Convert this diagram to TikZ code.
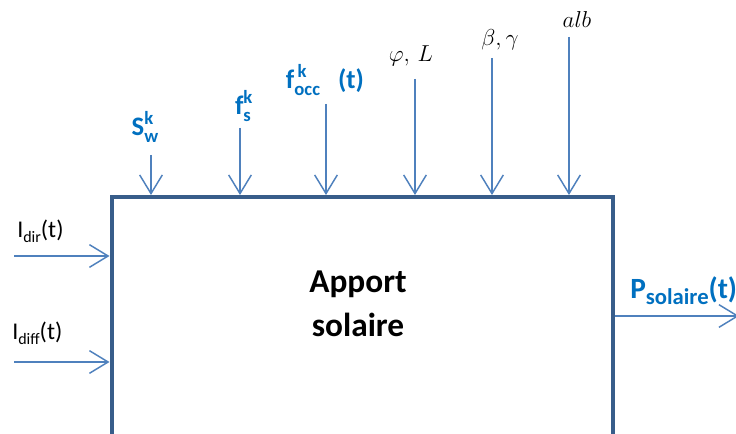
\documentclass[tikz,border=0pt]{standalone}
\usepackage{fontspec}
\setmainfont{Carlito}
\usetikzlibrary{arrows.meta}
\definecolor{arrowblue}{HTML}{4F81BD}
\definecolor{boxblue}{HTML}{385D8A}
\definecolor{labelblue}{HTML}{0070C0}
\newcommand{\mysupsub}[2]{\makebox[0pt][l]{\raisebox{0.85ex}{\fontsize{14}{15}\selectfont #1}}\raisebox{-0.5ex}{\fontsize{14}{15}\selectfont #2}}
\newcommand{\mylow}[2]{\raisebox{-0.45ex}{\fontsize{#1}{#1}\selectfont #2}}
\begin{document}
\begin{tikzpicture}[x=0.75pt,y=-0.75pt,
  arr/.style={draw=arrowblue,line width=1.1pt,-{Straight Barb[length=14pt,width=17pt,line width=1.1pt]}},
  blab/.style={text=labelblue,font=\fontsize{20}{22}\selectfont\bfseries,inner sep=0pt},
  klab/.style={text=black,font=\fontsize{18}{20}\selectfont,inner sep=0pt},
  mlab/.style={text=black,font=\fontsize{18}{20}\selectfont,inner sep=0pt}]
\useasboundingbox (0,0) rectangle (736,434);
\clip (0,0) rectangle (736,434);
\fill[white] (0,0) rectangle (736,434);
\node[draw=boxblue,line width=3.2pt,minimum width=501.5*0.75pt,minimum height=260*0.75pt,anchor=north west,inner sep=0pt] (box) at (109.5,195) {};
\node[font=\fontsize{25}{28}\selectfont\bfseries,align=center,inner sep=0pt] (title) at (358,304) {Apport\\[5pt]solaire};
% top inputs
\coordinate (c1) at (151,155);
\coordinate (c2) at (240,128);
\coordinate (c3) at (326,104);
\coordinate (c4) at (415,79);
\coordinate (c5) at (492,58);
\coordinate (c6) at (569,37);
\foreach \c in {c1,c2,c3,c4,c5,c6}{\draw[arr] (\c) -- (\c |- box.north);}
\node[blab] (sw) at (145,127) {S\mysupsub{k}{w}};
\node[blab] (fs) at (243,106) {f\mysupsub{k}{s}};
\node[blab] (focc) at (325,80) {f\mysupsub{\,k}{occ}\ \ \ (t)};
\node[mlab] (phi) at (411,56) {$\varphi,\,L$};
\node[mlab] (beta) at (500,40) {$\beta,\gamma$};
\node[mlab] (alb) at (577,20) {$alb$};
% left inputs
\coordinate (d1) at (14,256);
\coordinate (d2) at (14,362);
\draw[arr] (d1) -- (d1 -| box.west);
\draw[arr] (d2) -- (d2 -| box.west);
\node[klab,anchor=west] (idir) at (17,231) {I\mylow{12}{dir}(t)};
\node[klab,anchor=west] (idiff) at (12,333) {I\mylow{12}{diff}(t)};
% output
\coordinate (out) at (739,316);
\draw[arr] (box.east |- out) -- (out);
\node[blab,anchor=west,font=\fontsize{22}{24}\selectfont\bfseries] (ps) at (630,291) {P\mylow{17}{solaire}(t)};
\end{tikzpicture}
\end{document}
